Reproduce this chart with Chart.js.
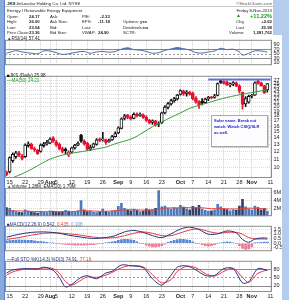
<!DOCTYPE html>
<html lang="en">
<head>
<meta charset="UTF-8">
<title>JKS Daily</title>
<script src="https://cdn.jsdelivr.net/npm/chart.js@4.4.0/dist/chart.umd.min.js"></script>
<style>
  html, body { margin: 0; padding: 0; }
  body { width: 289px; height: 300px; position: relative; overflow: hidden; background: #b4cced; font-family: "Liberation Sans", Arial, sans-serif; }
  #sheet { position: absolute; left: 5px; top: 0; width: 277px; height: 300px; background: #fff; }
  #corner { position: absolute; left: 273px; top: 0; width: 16px; height: 35px; background: #b4cced; }
  #edge { position: absolute; left: 0; top: 0; width: 5px; height: 300px; background: #88aadd; border-right: 1px solid #5b82c4; box-sizing: border-box; }
  #hline { position: absolute; left: 5px; top: 6px; width: 268px; height: 1px; background: #c8c8c8; }
  canvas { position: absolute; left: 5px; }
  .t { position: absolute; font-size: 4.3px; line-height: 5px; white-space: nowrap; color: #222; }
  .p { font-size: 4.6px; }
  .b { font-weight: bold; }
  .g { color: #1a9a1a; }
  #note { position: absolute; left: 211px; top: 115px; width: 51px; height: 26px; padding: 2px 2px; border: 1px solid #a9a9a9; box-shadow: 1px 1px 0 #d0d0d0; background: #fcfcff; color: #2323cf; font-size: 4px; line-height: 6px; font-weight: bold; white-space: nowrap; }
</style>
</head>
<body>
<div id="sheet"></div>
<div id="corner"></div>
<div id="edge"></div>
<div id="hline"></div>

<canvas id="rsi" width="277" height="35" style="top:35px"></canvas>
<canvas id="price" width="277" height="115" style="top:71px"></canvas>
<canvas id="vol" width="277" height="38" style="top:183px"></canvas>
<canvas id="macd" width="277" height="35" style="top:221px"></canvas>
<canvas id="sto" width="277" height="44" style="top:256px"></canvas>

<!-- header -->
<div class="t b" style="left:7px;top:1px">JKS</div>
<div class="t" style="left:16px;top:1px">Jinkosolar Holding Co. Ltd. NYSE</div>
<div class="t" style="right:17px;top:1px;color:#555">©StockCharts.com</div>
<div class="t" style="left:7px;top:7.5px">Energy / Renewable Energy Equipment</div>
<div class="t" style="right:17px;top:7.5px">Friday 8-Nov-2013</div>

<div class="t" style="left:7px;top:13.5px">Open:</div>
<div class="t b" style="left:29px;top:13.5px">24.17</div>
<div class="t" style="left:50px;top:13.5px">Ask:</div>
<div class="t" style="left:82px;top:13.5px">P/E:</div>
<div class="t b" style="left:100px;top:13.5px">-2.33</div>
<div class="t g" style="left:236px;top:13px;font-size:5px">▲</div>
<div class="t b g" style="right:17px;top:13px;font-size:5.6px;line-height:6px">+11.22%</div>

<div class="t" style="left:7px;top:19.2px">High:</div>
<div class="t b" style="left:29px;top:19.2px">26.00</div>
<div class="t" style="left:50px;top:19.2px">Ask Size:</div>
<div class="t" style="left:82px;top:19.2px">EPS:</div>
<div class="t b" style="left:98px;top:19.2px">-11.18</div>
<div class="t" style="left:123px;top:19.2px">Options:</div>
<div class="t b" style="left:140px;top:19.2px">yes</div>
<div class="t" style="left:236px;top:19.2px">Chg</div>
<div class="t b" style="right:17px;top:19.2px">+2.62</div>

<div class="t" style="left:7px;top:24.8px">Low:</div>
<div class="t b" style="left:29px;top:24.8px">23.54</div>
<div class="t" style="left:50px;top:24.8px">Bid:</div>
<div class="t" style="left:82px;top:24.8px">Last:</div>
<div class="t" style="left:123px;top:24.8px">Dividends:</div>
<div class="t b" style="left:143px;top:24.8px">no</div>
<div class="t" style="left:236px;top:24.8px">Last</div>
<div class="t b" style="right:17px;top:24.8px">25.98</div>

<div class="t" style="left:7px;top:30.3px">Prev Close:</div>
<div class="t b" style="left:29px;top:30.3px">23.36</div>
<div class="t" style="left:50px;top:30.3px">Bid Size:</div>
<div class="t" style="left:82px;top:30.3px">VWAP:</div>
<div class="t b" style="left:98px;top:30.3px">24.90</div>
<div class="t" style="left:123px;top:30.3px">SCTR:</div>
<div class="t" style="left:229px;top:30.3px">Volume:</div>
<div class="t b" style="right:17px;top:30.3px">1,281,762</div>

<!-- panel labels -->
<div class="t p" style="left:7px;top:35.5px"><span style="color:#2a4a9a">▲</span>RSI(14) 57.41</div>
<div class="t p" style="left:7px;top:72.5px"><span style="color:#000">■</span>JKS (Daily) 25.98</div>
<div class="t p g" style="left:7px;top:77.5px">—MA(50) 24.21</div>
<div class="t p" style="left:7px;top:184px"><span style="color:#3a6ab0">▲</span>Volume 1.28M, EMA(20) 1.79M</div>
<div class="t p" style="left:7px;top:221.5px"><span style="color:#26337f">■</span><span style="color:#26337f">MACD(12,26,9) 0.542,</span> <span style="color:#e23a3a">0.435,</span> <span style="color:#6a8fd8">0.108</span></div>
<div class="t p" style="left:7px;top:256.5px"><span style="color:#26337f">—Full STO %K(14,3) %D(3) 74.91,</span> <span style="color:#e23a3a">77.16</span></div>

<div id="note">Solar name. Break out<br>watch. Watch CSIQ/SLR<br>as well.</div>

<script>
// trading days shown on the x axis (last one is the empty Nov 11 slot)
const dates = [
  '07-12','07-15','07-16','07-17','07-18','07-19','07-22','07-23','07-24','07-25','07-26','07-29','07-30','07-31',
  '08-01','08-02','08-05','08-06','08-07','08-08','08-09','08-12','08-13','08-14','08-15','08-16','08-19','08-20',
  '08-21','08-22','08-23','08-26','08-27','08-28','08-29','08-30',
  '09-03','09-04','09-05','09-06','09-09','09-10','09-11','09-12','09-13','09-16','09-17','09-18','09-19','09-20',
  '09-23','09-24','09-25','09-26','09-27','09-30',
  '10-01','10-02','10-03','10-04','10-07','10-08','10-09','10-10','10-11','10-14','10-15','10-16','10-17','10-18',
  '10-21','10-22','10-23','10-24','10-25','10-28','10-29','10-30','10-31',
  '11-01','11-04','11-05','11-06','11-07','11-08','11-11'
];
const tickText = {
  '07-15':'15','07-22':'22','07-29':'29','08-01':'Aug','08-05':'5','08-12':'12','08-19':'19','08-26':'26',
  '09-03':'Sep','09-09':'9','09-16':'16','09-23':'23','10-01':'Oct','10-07':'7','10-14':'14','10-21':'21',
  '10-28':'28','11-01':'Nov','11-11':'11'
};
const months = ['Aug','Sep','Oct','Nov'];

// daily candles
const opens  = [9.5,9.5,10.8,11.3,11.8,11.4,11.3,12.8,13.0,12.4,12.2,12.0,12.8,13.1,13.2,14.0,13.4,13.0,12.4,12.3,
  11.5,11.9,12.5,12.9,14.4,13.5,13.2,12.3,12.6,13.0,13.8,13.7,13.7,13.4,13.7,14.2,14.8,15.6,17.5,18.1,
  17.8,17.5,18.4,18.1,18.2,17.7,17.1,16.7,17.0,16.3,16.6,18.6,19.8,20.6,21.3,21.8,23.0,23.9,23.2,23.6,
  23.3,22.0,21.2,21.3,20.9,21.8,22.2,22.2,22.7,26.9,26.6,26.5,25.6,25.8,26.2,25.3,23.5,20.6,21.0,22.5,
  22.8,26.8,26.2,25.3,24.17];
const highs  = [9.6,11.3,11.8,12.0,12.0,11.6,13.1,13.4,13.2,12.6,12.3,13.1,13.3,13.6,14.0,14.2,13.6,13.2,12.6,12.5,
  12.1,12.6,13.0,13.4,14.6,13.7,13.3,12.9,13.2,13.9,14.0,14.9,13.8,13.8,14.4,15.0,15.9,17.6,18.3,18.3,
  18.0,18.6,18.6,18.6,18.4,18.0,17.3,17.2,17.1,16.8,18.8,20.2,21.0,21.7,22.2,23.0,24.2,24.1,24.0,23.8,
  23.6,22.4,21.4,21.9,22.0,22.5,22.5,23.0,26.2,27.3,26.9,26.8,26.2,26.6,26.5,25.6,23.6,22.4,22.8,23.0,
  26.5,27.1,26.4,25.5,26.00];
const lows   = [9.1,9.4,10.6,11.1,11.3,10.9,11.2,12.6,12.3,12.0,11.6,11.9,12.6,12.9,13.1,13.3,12.7,12.2,11.8,11.7,
  11.3,11.8,12.3,12.8,13.3,12.9,12.1,12.1,12.5,12.9,13.4,13.5,13.0,13.3,13.6,14.1,14.7,15.5,17.2,17.4,
  17.2,17.4,17.8,17.9,17.5,16.9,16.4,16.3,16.0,15.9,16.5,18.4,19.5,20.3,21.0,21.5,22.8,22.7,22.5,22.8,
  21.6,20.8,19.6,20.4,20.8,21.4,21.8,22.0,22.6,26.0,25.8,25.4,25.0,25.4,25.1,23.3,19.4,20.0,20.8,22.1,
  22.7,25.8,25.2,23.2,23.54];
const closes = [9.2,11.2,11.6,11.8,11.5,11.1,12.9,13.1,12.4,12.2,11.7,12.9,13.1,13.3,13.8,13.5,12.9,12.4,12.0,12.1,
  11.9,12.5,12.9,13.2,13.5,13.1,12.3,12.6,13.1,13.7,13.6,13.7,13.3,13.6,14.2,14.7,15.7,17.4,18.0,17.7,
  17.4,18.3,18.0,18.3,17.7,17.1,16.6,17.0,16.2,16.5,18.6,19.9,20.7,21.4,21.9,22.8,24.0,23.1,23.6,23.0,
  21.8,21.0,20.4,20.8,21.8,22.2,22.1,22.6,26.0,26.3,26.0,25.6,25.9,26.3,25.4,23.8,20.5,21.9,22.5,22.7,
  26.2,26.0,25.4,23.36,25.98];

// [day index, value] readings for the smooth lines
const ma50 = [[2,8.9],[5,9.3],[8,9.8],[11,10.4],[14,11.0],[17,11.4],[20,11.7],[23,11.9],[26,12.1],[29,12.35],
  [32,12.6],[35,13.1],[38,13.5],[41,14.0],[44,14.9],[47,15.9],[50,16.8],[53,17.7],[56,18.6],[59,19.6],
  [62,20.3],[65,20.9],[68,21.6],[71,22.2],[74,22.7],[77,23.2],[80,23.6],[84,24.21]];
const resistance = [[65,27.2],[85,27.2]];
const priceTicks = [10,11,12,13,14,15,16,17,18,19,20,21,22,23,24,25,26,27];

const rsi = [[0,53],[2,60],[3,64],[5,58],[7,54],[10,50],[12,63],[14,62],[16,55],[18,47],[20,50],[23,58],
  [25,60],[27,52],[29,58],[31,60],[33,57],[35,60],[37,70],[39,76],[41,68],[43,66],[45,60],[47,52],[49,55],
  [51,65],[53,71],[55,77],[57,72],[59,66],[61,55],[63,53],[65,58],[67,62],[69,74],[71,68],[73,70],[75,58],
  [76,44],[78,52],[80,63],[82,62],[84,57.41]];

// volume in millions
const volume = [2.2,2.0,1.5,1.2,1.0,0.9,1.6,1.3,1.1,0.9, 0.8,1.2,1.0,0.9,1.4,1.3,1.1,1.0,1.2,1.5,
  1.3,1.0,1.1,1.4,4.0,1.6,1.2,1.3,1.0,0.9, 1.1,1.8,1.2,1.0,1.3,1.5,2.5,3.3,2.0,1.6,
  1.4,1.8,1.5,1.2,1.3,1.9,1.6,1.7,2.0,6.5, 2.4,2.6,2.0,1.8,2.2,2.0,2.8,2.3,1.9,1.6,
  2.5,2.2,2.8,1.8,1.5,1.3,1.4,1.6,3.0,2.4, 1.9,1.7,1.4,1.6,1.5,2.6,4.3,2.4,1.9,1.6,
  2.6,2.2,1.6,2.0,1.28];
const volEma = [[0,1.3],[3,1.35],[6,1.3],[9,1.2],[12,1.15],[15,1.15],[18,1.15],[21,1.15],[24,1.4],[27,1.35],
  [30,1.25],[33,1.3],[36,1.45],[39,1.65],[42,1.6],[45,1.55],[48,1.6],[51,2.1],[54,2.1],[57,2.2],[60,2.15],
  [63,2.15],[66,1.9],[69,1.95],[72,1.85],[75,1.85],[78,2.05],[81,2.0],[84,1.79]];

const macd = [[0,0.64],[4,0.95],[8,1.15],[12,1.2],[16,1.1],[20,0.85],[24,0.65],[28,0.5],[32,0.6],[35,0.8],
  [38,1.2],[41,1.35],[44,1.15],[47,0.8],[50,0.6],[53,1.0],[56,1.5],[59,1.7],[62,1.45],[65,0.95],[68,1.0],
  [71,1.3],[74,1.1],[76,0.4],[78,0.1],[80,0.45],[82,0.55],[84,0.542]];
const signal = [[0,0.4],[4,0.6],[8,0.85],[12,1.05],[16,1.1],[20,1.0],[24,0.85],[28,0.65],[32,0.55],[35,0.6],
  [38,0.8],[41,1.05],[44,1.2],[47,1.05],[50,0.8],[53,0.8],[56,1.1],[59,1.4],[62,1.5],[65,1.25],[68,1.05],
  [71,1.15],[74,1.15],[76,0.95],[78,0.6],[80,0.45],[82,0.45],[84,0.435]];
const hist = [0.24,0.28,0.3,0.32,0.35,0.33,0.32,0.3,0.3,0.25, 0.2,0.18,0.15,0.1,0.05,0.02,0.0,-0.05,-0.1,-0.12,
  -0.15,-0.18,-0.2,-0.22,-0.2,-0.2,-0.18,-0.16,-0.15,-0.1, -0.05,0.0,0.05,0.1,0.15,0.2,0.3,0.38,0.42,0.4,
  0.35,0.3,0.15,0.0,-0.05,-0.2,-0.3,-0.4,-0.4,-0.35, -0.25,-0.1,0.1,0.2,0.3,0.38,0.42,0.4,0.35,0.3,
  0.15,0.0,-0.05,-0.15,-0.25,-0.3,-0.25,-0.15,-0.05,0.05, 0.1,0.15,0.12,0.05,-0.05,-0.25,-0.55,-0.65,-0.6,-0.4,
  0.02,0.08,0.1,0.12,0.108];

const stoK = [[0,66],[2,77],[6,82],[10,80],[12,87],[15,76],[17,50],[19,15],[21,25],[24,50],[26,56],[29,45],
  [32,66],[34,72],[37,95],[40,92],[44,85],[47,45],[50,22],[53,58],[55,87],[58,92],[61,77],[64,57],[67,57],
  [70,82],[73,82],[76,30],[78,34],[81,82],[84,74.91]];
const stoD = [[0,58],[2,70],[6,80],[10,82],[12,84],[15,82],[17,65],[19,35],[21,22],[24,40],[26,52],[29,50],
  [32,58],[34,68],[37,85],[40,93],[44,88],[47,60],[50,30],[53,42],[55,72],[58,90],[61,85],[64,64],[67,55],
  [70,72],[73,83],[76,50],[78,32],[81,65],[84,77.16]];

const RED = '#e3122f', BLACK = '#111111', NAVY = '#26337f';

Chart.defaults.animation = false;
Chart.defaults.responsive = false;
Chart.defaults.font.family = '"Liberation Sans", Arial, sans-serif';
Chart.defaults.plugins.legend.display = false;
Chart.defaults.plugins.tooltip.enabled = false;

const pts = pairs => pairs.map(([i, v]) => ({ x: dates[i], y: v }));

// reference lines + panel frame
Chart.register({
  id: 'guides',
  beforeDatasetsDraw(chart, args, opts) {
    const { ctx, chartArea: a, scales } = chart;
    (opts.lines || []).forEach(g => {
      const y = Math.round(scales.y.getPixelForValue(g.value)) + 0.5;
      ctx.save();
      ctx.strokeStyle = g.color;
      ctx.lineWidth = 1;
      ctx.setLineDash(g.dash || []);
      ctx.beginPath(); ctx.moveTo(a.left, y); ctx.lineTo(a.right, y); ctx.stroke();
      ctx.restore();
    });
  },
  afterDraw(chart) {
    const { ctx, chartArea: a } = chart;
    ctx.save();
    ctx.strokeStyle = '#8e8e8e';
    ctx.lineWidth = 1;
    ctx.strokeRect(a.left + 0.5, a.top + 0.5, a.right - a.left - 1, a.bottom - a.top - 1);
    ctx.restore();
  }
});

function xScale(show) {
  return {
    type: 'category', offset: true,
    grid: { offset: false, drawTicks: false,
      color: c => tickText[dates[c.index]] ? '#d0d0d0' : 'rgba(0,0,0,0)' },
    border: { display: false, dash: [1, 1] },
    ticks: { display: show, autoSkip: false, maxRotation: 0, padding: 1, color: '#222',
      font: c => ({ size: 5.5, weight: months.includes(tickText[dates[c.index]]) ? 'bold' : 'normal' }),
      callback: (v, i) => tickText[dates[i]] || '' },
    afterFit: s => { s.height = show ? 8 : 0; }
  };
}

function yScale(o) {
  return {
    type: o.type || 'linear', position: 'right', min: o.min, max: o.max,
    grid: { drawTicks: false, color: o.grid || '#dadada' },
    border: { display: false, dash: [1, 1] },
    ticks: { autoSkip: false, padding: 1.5, color: '#222', font: { size: 5.5 }, callback: o.label || (v => v) },
    afterFit: s => { s.width = 10; },
    afterBuildTicks: s => { s.ticks = o.ticks.map(v => ({ value: v })); }
  };
}

const baseOpts = (x, y, lines) => ({
  layout: { padding: 0, autoPadding: false },
  scales: { x, y },
  plugins: { guides: { lines: lines || [] } }
});

const lineSet = (data, color, extra) => Object.assign({
  type: 'line', data: pts(data), borderColor: color, borderWidth: 1, pointRadius: 0, tension: 0.3, fill: false
}, extra || {});

// RSI
new Chart(document.getElementById('rsi'), {
  type: 'line',
  data: { labels: dates, datasets: [
    lineSet(rsi, '#4d6ca6', { fill: { target: { value: 70 }, above: '#4a74cc', below: 'rgba(0,0,0,0)' } })
  ]},
  options: baseOpts(xScale(false),
    yScale({ min: 0, max: 111, ticks: [10, 30, 50, 70, 90], grid: 'rgba(0,0,0,0)' }),
    [{ value: 70, color: '#8a8a8a' }, { value: 30, color: '#8a8a8a' }, { value: 50, color: '#9a9a9a', dash: [2, 2] }])
});

// price candles
const upDay = closes.map((c, i) => i > 0 && c >= closes[i - 1]);
const candleColor = upDay.map(u => u ? BLACK : RED);
const bodyFill = closes.map((c, i) => c < opens[i] ? candleColor[i] : '#ffffff');

new Chart(document.getElementById('price'), {
  type: 'bar',
  data: { labels: dates, datasets: [
    lineSet(ma50, '#3d9b3d', { order: 0 }),
    lineSet(resistance, '#5d6fe6', { borderWidth: 2, tension: 0, order: 0 }),
    { data: opens.map((o, i) => [o, closes[i]]), grouped: false, barThickness: 3, minBarLength: 1,
      borderWidth: 1, borderSkipped: false, borderColor: candleColor, backgroundColor: bodyFill, order: 1 },
    { data: lows.map((l, i) => [l, highs[i]]), grouped: false, barThickness: 1,
      backgroundColor: candleColor, order: 2 }
  ]},
  options: baseOpts(xScale(true),
    yScale({ type: 'logarithmic', min: 8.87, max: 28.39, ticks: priceTicks, label: v => String(v) }))
});

// volume
new Chart(document.getElementById('vol'), {
  type: 'bar',
  data: { labels: dates, datasets: [
    lineSet(volEma, '#e8403c', { order: 0 }),
    { data: volume, barThickness: 2, backgroundColor: volume.map((v, i) => upDay[i] ? '#4a7bbd' : '#34426a'), order: 1 }
  ]},
  options: baseOpts(xScale(false),
    yScale({ min: 0, max: 7.24, ticks: [2, 4, 6], label: v => v + 'M' }))
});

// MACD
new Chart(document.getElementById('macd'), {
  type: 'bar',
  data: { labels: dates, datasets: [
    lineSet(macd, NAVY, { order: 0 }),
    lineSet(signal, '#ea3b3b', { order: 0 }),
    { data: hist, barThickness: 2, backgroundColor: hist.map(v => v >= 0 ? '#5a86d6' : '#ee7893'), order: 1 }
  ]},
  options: baseOpts(xScale(false),
    yScale({ min: -0.846, max: 1.846, ticks: [-0.5, 0, 0.5, 1, 1.5], label: v => v.toFixed(1) }))
});

// full stochastics
new Chart(document.getElementById('sto'), {
  type: 'line',
  data: { labels: dates, datasets: [
    lineSet(stoK, NAVY),
    lineSet(stoD, '#ee3344')
  ]},
  options: baseOpts(xScale(true),
    yScale({ min: -3, max: 110.2, ticks: [20, 50, 80], grid: 'rgba(0,0,0,0)' }),
    [{ value: 80, color: '#8a8a8a' }, { value: 20, color: '#8a8a8a' }, { value: 50, color: '#9a9a9a', dash: [2, 2] }])
});
</script>
</body>
</html>
